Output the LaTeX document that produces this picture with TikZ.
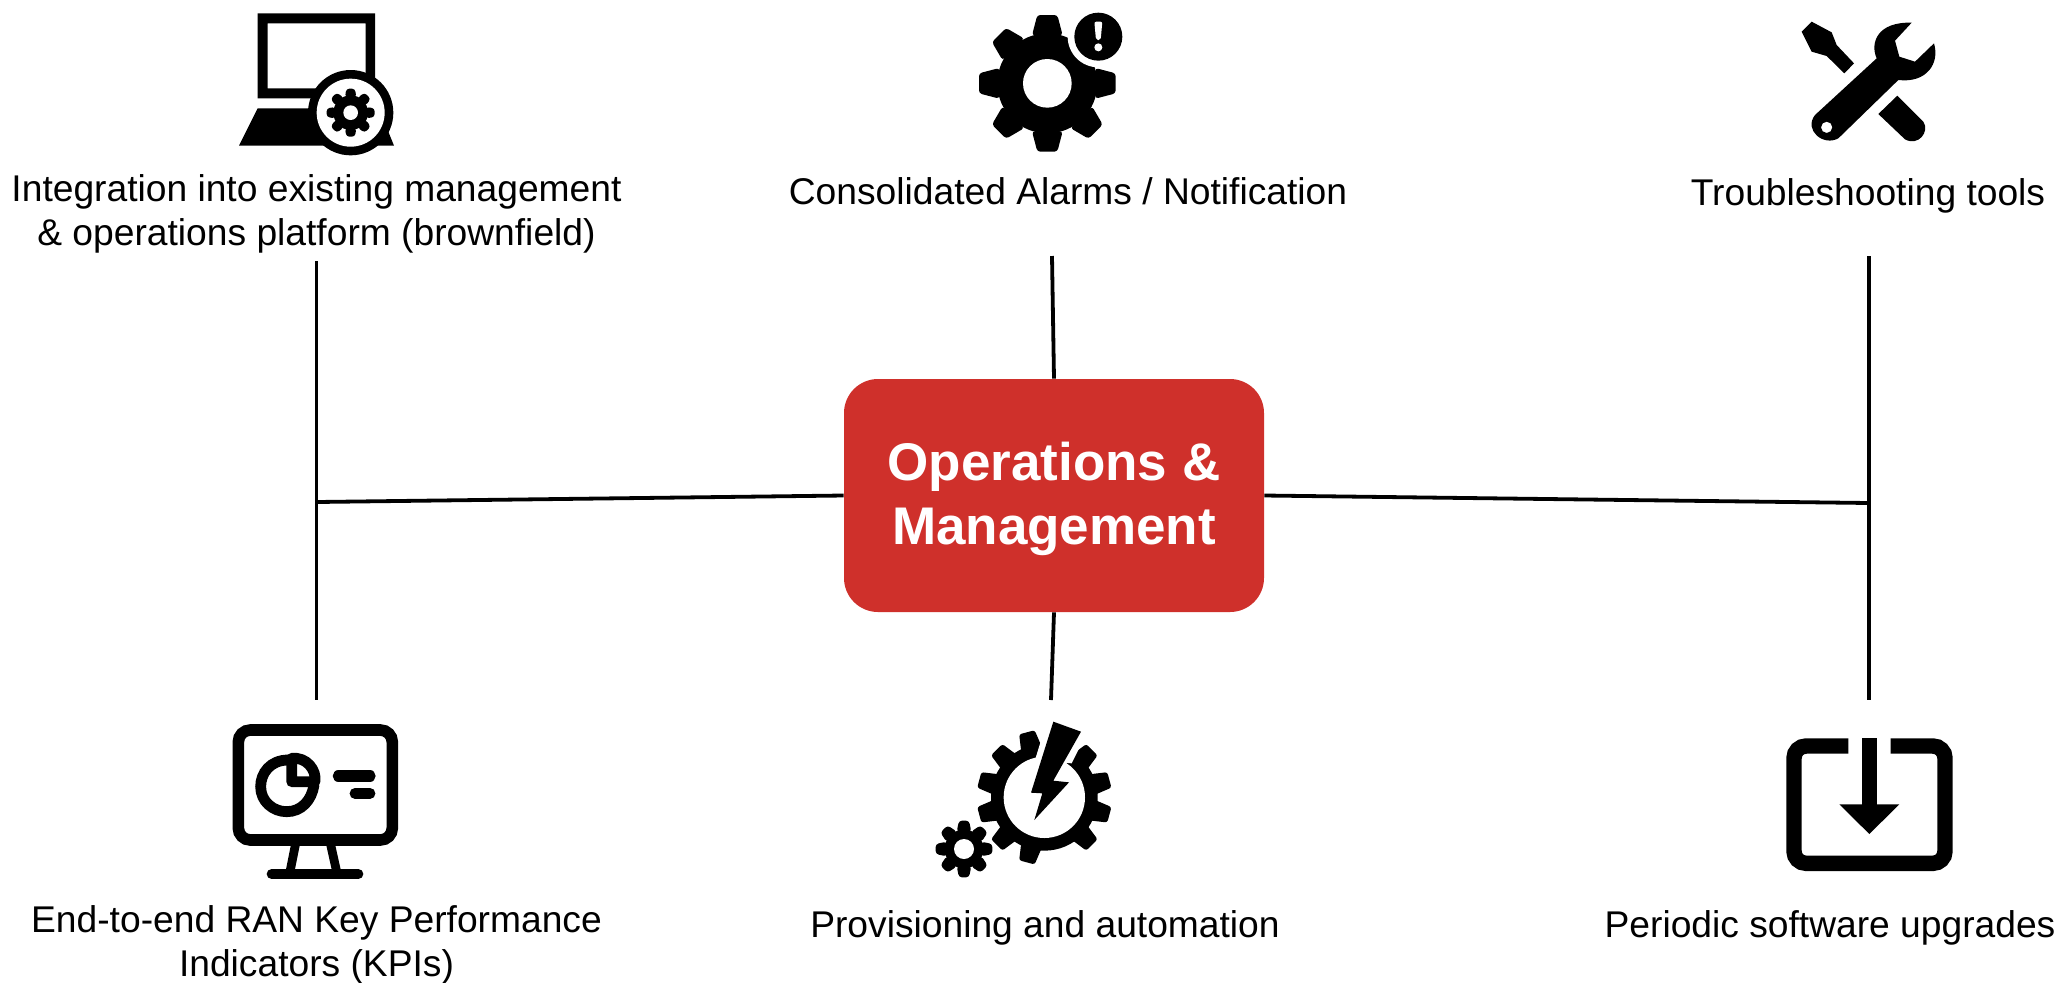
\documentclass[tikz,border=0pt]{standalone}
\usepackage{fontspec}
\setmainfont{Liberation Sans}
\definecolor{boxred}{HTML}{CF302B}
\tikzset{
  lbl/.style={align=center,inner sep=0pt,font=\fontsize{18.6}{22}\selectfont,text=black},
  hub/.style={fill=boxred,rounded corners=17pt,minimum width=210pt,minimum height=116.5pt,inner sep=0pt,align=center,text=white,font=\bfseries\fontsize{26.5}{32}\selectfont},
  link/.style={line width=1.9pt,black},
}
% cx cy n offset router rbody hole tipHalf baseHalf
\newcommand\gearicon[9]{%
  \fill (#1,#2) circle (#6);
  \foreach \k in {1,...,#3}{
    \pgfmathsetmacro\ang{#4+360/#3*\k}
    \fill[rounded corners=1.5pt,rotate around={\ang:(#1,#2)}] (#1+#6-6,#2-#9) -- (#1+#5,#2-#8) -- (#1+#5,#2+#8) -- (#1+#6-6,#2+#9) -- cycle;
  }
  \fill[white] (#1,#2) circle (#7);
}
\begin{document}
\begin{tikzpicture}[x=0.5pt,y=-0.5pt]
\useasboundingbox (0,0) rectangle (2058,982);
% hub and labels
\node[hub] (hubbox) at (1054,495.5) {\raisebox{0pt}[\dimexpr\height+3pt]{Operations \&}\\Management};
\node[lbl] (tl) at (316.5,214) {Integration into existing management\\\& operations platform (brownfield)};
\node[lbl] (tc) at (1068,191) {Consolidated Alarms / Notification};
\node[lbl] (tr) at (1868,196) {Troubleshooting tools};
\node[lbl] (bl) at (316.5,945) {End-to-end RAN Key Performance\\Indicators (KPIs)};
\node[lbl] (bc) at (1045,928) {Provisioning and automation};
\node[lbl] (br) at (1830,928) {Periodic software upgrades};
% connectors
\coordinate (ltop) at (316.5,261);
\coordinate (lbot) at (316.5,700);
\coordinate (ljoin) at (316.5,502);
\coordinate (rtop) at (1869,256);
\coordinate (rbot) at (1869,700);
\coordinate (rjoin) at (1869,503);
\coordinate (ctop) at (1052,256);
\coordinate (cbot) at (1051,700);
\draw[link] (ltop) -- (lbot);
\draw[link] (rtop) -- (rbot);
\draw[link] (ljoin) -- (hubbox.west);
\draw[link] (hubbox.east) -- (rjoin);
\draw[link] (ctop) -- (hubbox.north);
\draw[link] (hubbox.south) -- (cbot);
% icon 1 : laptop + gear
\begin{scope}[shift={(220,0)},scale=1/3]
  \fill[even odd rule] (113,40) rectangle (465,295) (143,70) rectangle (437,265);
  \fill (113,325) -- (57,437) -- (522,437) -- (505,395) -- (300,325) -- cycle;
  \fill (392,338) circle (128);
  \fill[white] (392,338) circle (102);
  \gearicon{392}{338}{8}{0}{72}{52}{22}{13}{17}
\end{scope}
% icon 2 : gear + alert
\begin{scope}[shift={(960,0)},scale=1/3]
  \gearicon{262}{250}{8}{0}{205}{150}{73}{30}{46}
  \fill[white] (415,110) circle (92);
  \fill (415,110) circle (72);
  \fill[white,rounded corners=1pt] (403,65) -- (427,65) -- (422,120) -- (408,120) -- cycle;
  \fill[white] (415,142) circle (12);
\end{scope}
% icon 3 : tools
\begin{scope}[shift={(1780,0)},scale=1/3]
  \fill (95,65) -- (155,97) -- (170,135) -- (222,190) -- (193,220) -- (140,168) -- (95,155) -- (65,95) -- cycle;
  \fill (352,287) -- (430,365) .. controls (450,395) and (415,440) .. (375,418) -- (295,342) -- cycle;
  \fill[even odd rule] (105,345) -- (290,175) .. controls (270,130) and (290,65) .. (395,68) -- (345,122) -- (358,170) -- (405,185) -- (462,130) .. controls (480,190) and (440,250) .. (355,240) -- (175,415) .. controls (130,440) and (70,390) .. (105,345) -- cycle (140,382) circle (17);
\end{scope}
% icon 4 : monitor
\begin{scope}[shift={(220,710)},scale=1/3,line cap=round]
  \draw[line width=5.8pt,rounded corners=6pt] (55,60) rectangle (517,390);
  \draw[line width=4.4pt,line cap=butt] (228,395) -- (210,485);
  \draw[line width=4.4pt,line cap=butt] (330,395) -- (350,485);
  \draw[line width=5pt] (155,492) -- (415,492);
  \draw[line width=5.4pt] (205,150) .. controls (150,150) and (122,190) .. (122,230) .. controls (122,275) and (160,305) .. (200,305) .. controls (245,305) and (275,270) .. (282,225);
  \draw[line width=5.4pt,line join=round] (215,145) -- (215,215) -- (285,215) .. controls (290,180) and (260,140) .. (215,145);
  \draw[line width=5.6pt] (355,198) -- (450,198);
  \draw[line width=5.4pt] (405,250) -- (450,250);
\end{scope}
% icon 5 : gears + bolt
\begin{scope}[shift={(925,710)},scale=1/3]
  \fill (358,262) circle (160);
  \foreach \a in {-45,-15,15,45,75,105,135,165,195,225,255}{
    \fill[rounded corners=1.2pt,rotate around={\a:(358,262)}] (505,230) -- (560,238) -- (560,286) -- (505,294) -- cycle;
  }
  \fill[white] (358,262) circle (122);
  \fill[white] (370,20) -- (490,60) -- (440,160) -- (330,150) -- cycle;
  \draw[white,line width=3pt,line join=miter] (385,35) -- (468,65) -- (385,212) -- (432,217) -- (328,330) -- (352,250) -- (318,248) -- cycle;
  \fill (385,35) -- (468,65) -- (385,212) -- (432,217) -- (328,330) -- (352,250) -- (318,248) -- cycle;
  \gearicon{117}{417}{8}{0}{85}{58}{30}{15}{22}
\end{scope}
% icon 6 : download
\begin{scope}[shift={(1770,720)},scale=1/3]
  \draw[line width=7.7pt,rounded corners=6pt] (235,78) -- (72,78) -- (72,430) -- (525,430) -- (525,78) -- (362,78);
  \fill (275,55) rectangle (322,255);
  \fill (208,253) -- (388,253) -- (298,342) -- cycle;
\end{scope}
\end{tikzpicture}
\end{document}
